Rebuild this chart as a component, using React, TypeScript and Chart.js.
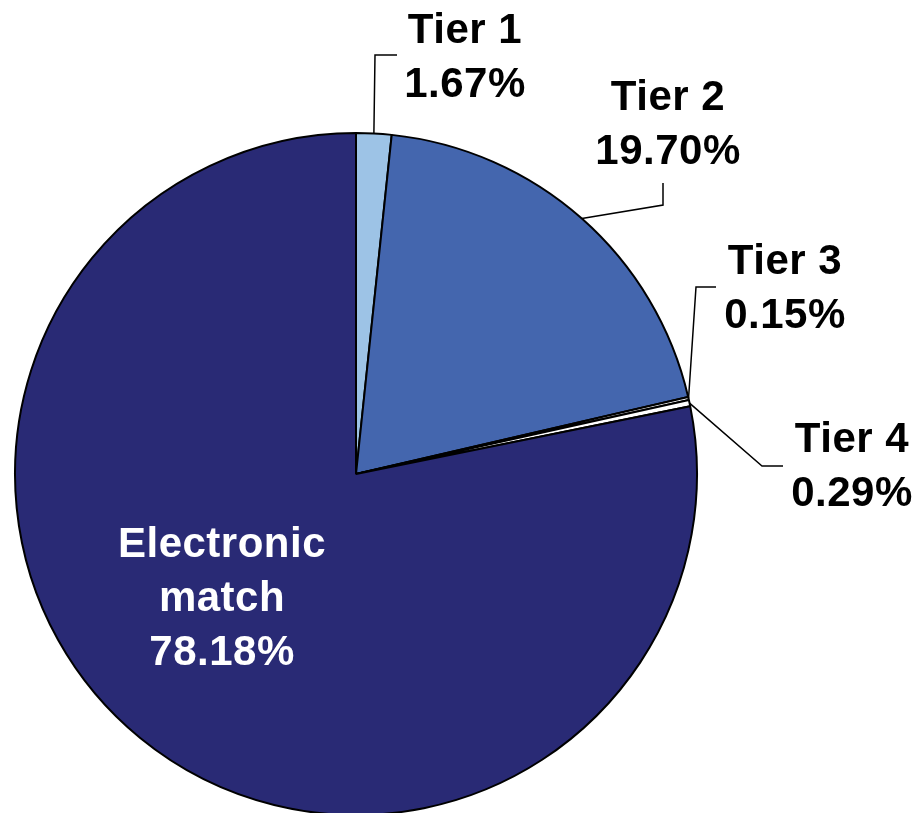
import React, { useEffect, useRef } from "react";
import { Chart, registerables } from "chart.js";

Chart.register(...registerables);

const categories = ["Tier 1", "Tier 2", "Tier 3", "Tier 4", "Electronic match"];
const shares = [1.67, 19.7, 0.15, 0.29, 78.18];
const shareLabels = ["1.67%", "19.70%", "0.15%", "0.29%", "78.18%"];
const sliceColors = ["#9DC3E6", "#4466AE", "#FFFFFF", "#FFFFFF", "#292A75"];

// label layout: elbow point, end of leader, text anchor (center x, first baseline)
const labelLayout = [
  { elbow: [375, 55], end: [397, 55], cx: 465, y: 43, color: "#000" },
  { elbow: [663, 205], end: [663, 183], cx: 668, y: 110, color: "#000" },
  { elbow: [696, 287], end: [716, 287], cx: 785, y: 274, color: "#000" },
  { elbow: [762, 466], end: [783, 466], cx: 852, y: 452, color: "#000" },
  { elbow: null, end: null, cx: 222, y: 557, color: "#FFF" },
];

const FONT = "bold 42px 'Liberation Sans', Arial, sans-serif";
const LINE_H = 54;

const labelPlugin = {
  id: "pieLabels",
  afterDraw(chart: any) {
    const ctx = chart.ctx as CanvasRenderingContext2D;
    const meta = chart.getDatasetMeta(0);
    ctx.save();
    meta.data.forEach((arc: any, i: number) => {
      const L = labelLayout[i];
      if (L.elbow && L.end) {
        const a = (arc.startAngle + arc.endAngle) / 2;
        const sx = arc.x + Math.cos(a) * arc.outerRadius;
        const sy = arc.y + Math.sin(a) * arc.outerRadius;
        ctx.beginPath();
        ctx.strokeStyle = "#000";
        ctx.lineWidth = 1.5;
        ctx.moveTo(sx, sy);
        ctx.lineTo(L.elbow[0], L.elbow[1]);
        ctx.lineTo(L.end[0], L.end[1]);
        ctx.stroke();
      }
      const words = categories[i] === "Electronic match" ? ["Electronic", "match"] : [categories[i]];
      const lines = [...words, shareLabels[i]];
      ctx.font = FONT;
      (ctx as any).letterSpacing = "0.5px";
      ctx.fillStyle = L.color;
      ctx.textAlign = "center";
      ctx.textBaseline = "alphabetic";
      lines.forEach((t, k) => ctx.fillText(t, L.cx, L.y + k * LINE_H));
    });
    ctx.restore();
  },
};

export default function App() {
  const ref = useRef<HTMLCanvasElement | null>(null);
  useEffect(() => {
    if (!ref.current) return;
    const chart = new Chart(ref.current, {
      type: "pie",
      data: {
        labels: categories,
        datasets: [
          {
            data: shares,
            backgroundColor: sliceColors,
            borderColor: "#000",
            borderWidth: 2,
            radius: 341,
            clip: false,
          } as any,
        ],
      },
      options: {
        responsive: false,
        animation: false,
        layout: { padding: { left: 0, right: 206, top: 135, bottom: 0 } },
        plugins: { legend: { display: false }, tooltip: { enabled: false } },
      },
      plugins: [labelPlugin],
    });
    return () => chart.destroy();
  }, []);
  return (
    <div style={{ position: "absolute", left: 0, top: 0, width: 918, height: 813, background: "#fff" }}>
      <canvas ref={ref} width={918} height={813} />
    </div>
  );
}
